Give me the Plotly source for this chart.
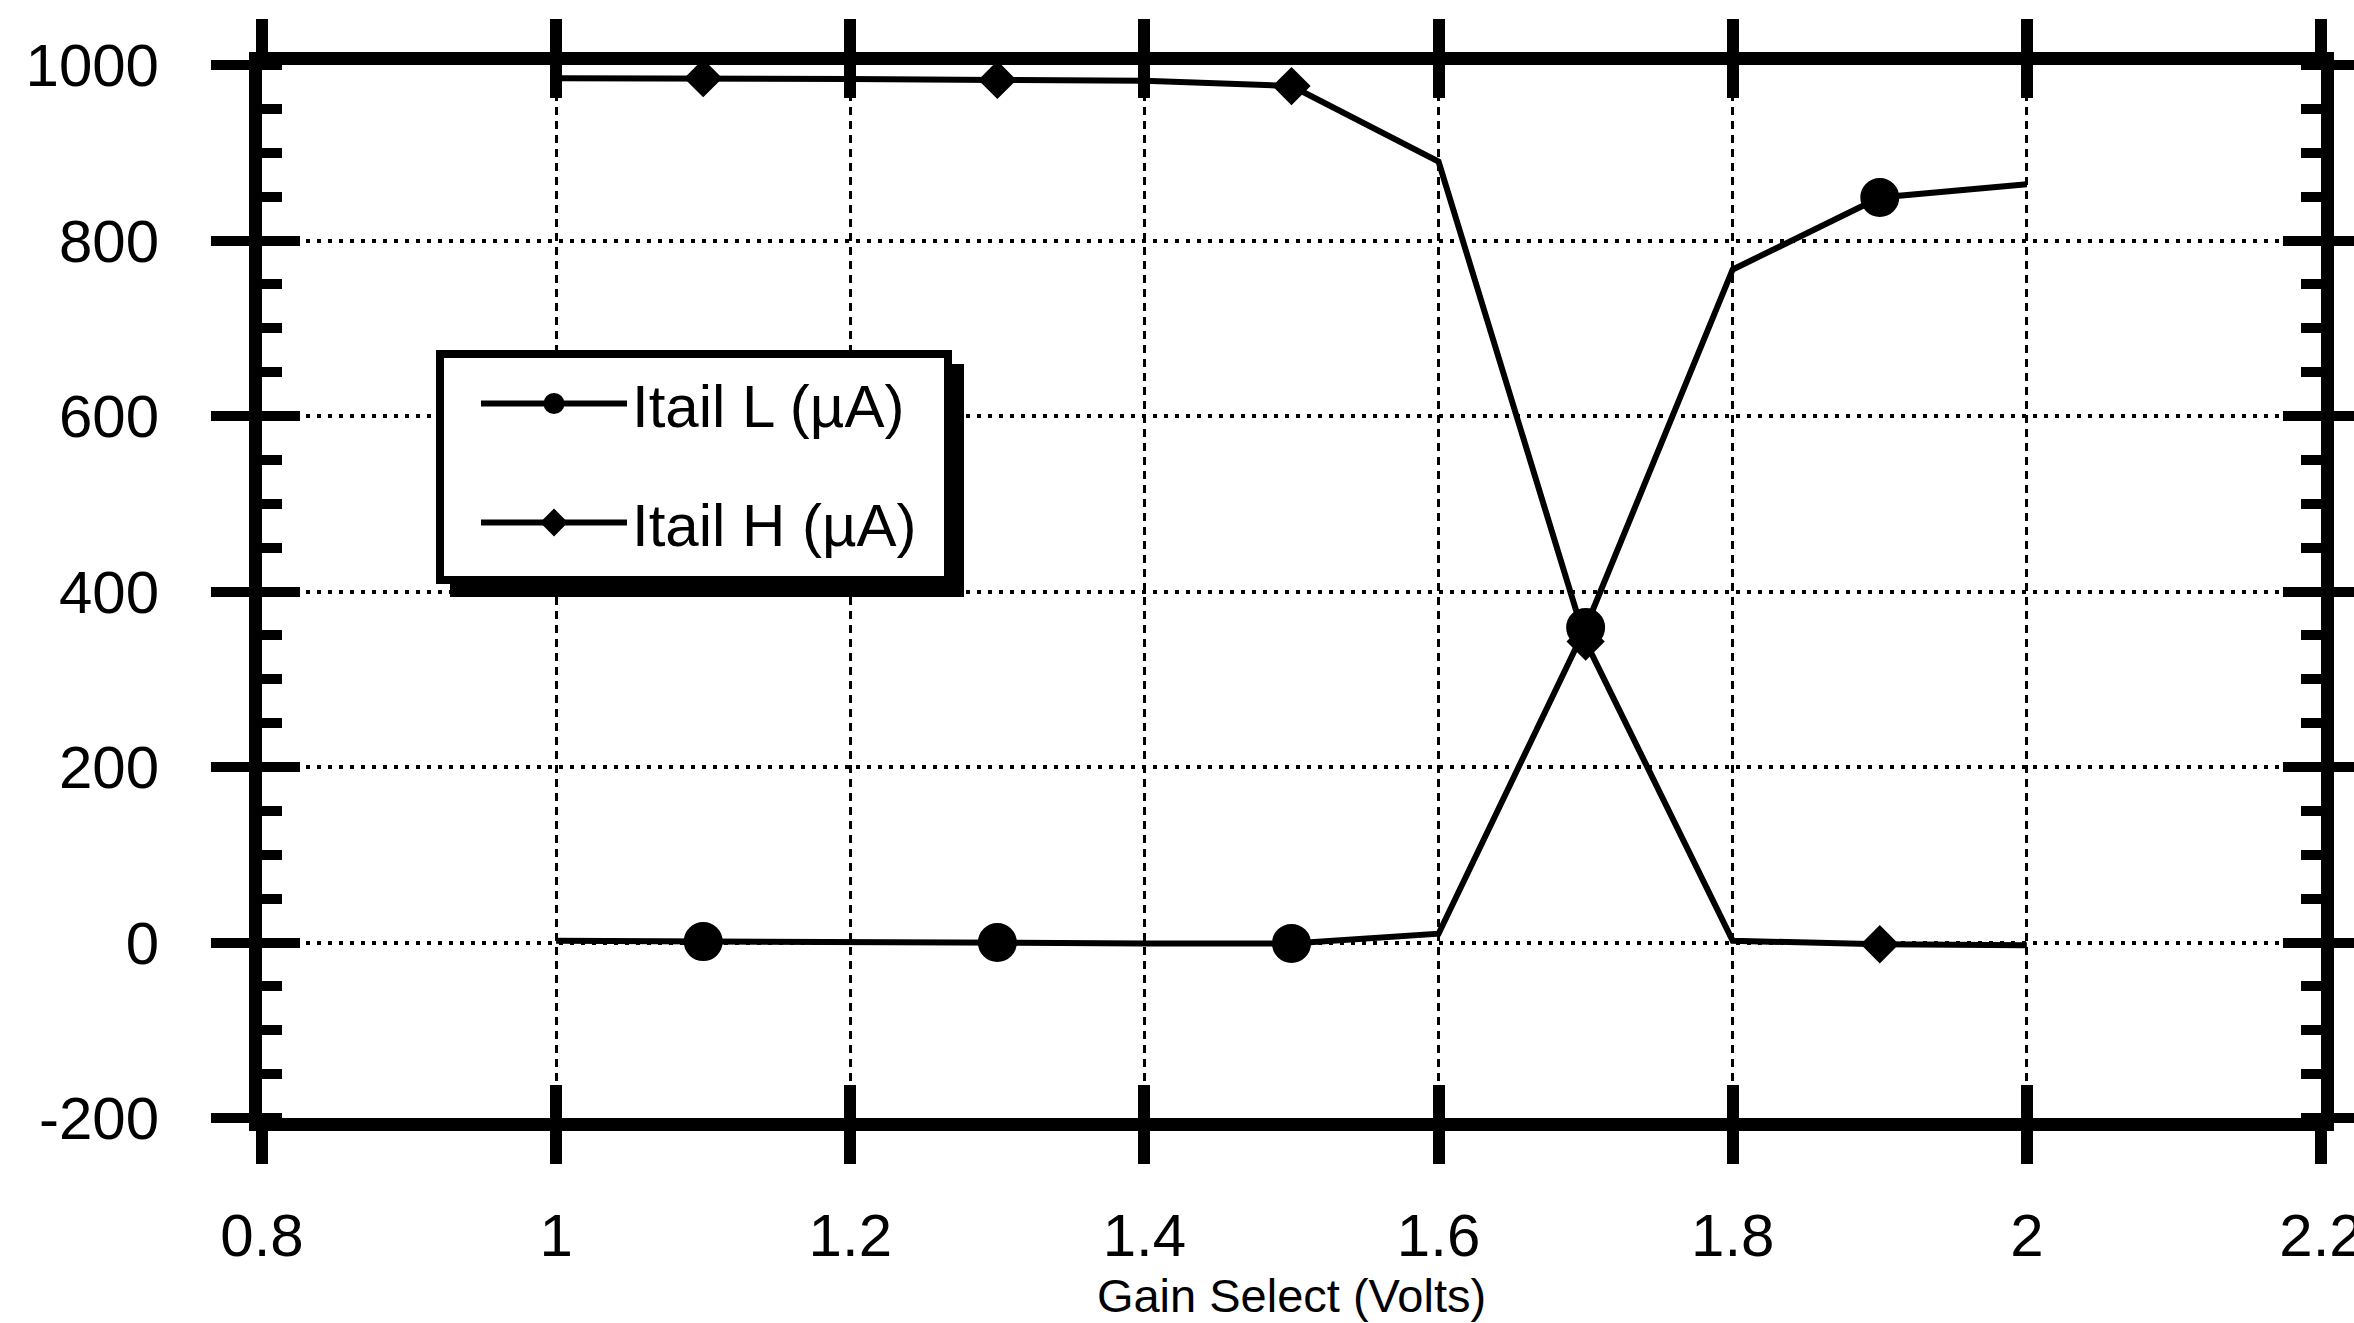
import plotly.graph_objects as go

# ---------------- data ----------------
gain_volts = [1.0, 1.1, 1.2, 1.3, 1.4, 1.5, 1.6, 1.7, 1.8, 1.9, 2.0]
itail_l = [2, 1, 0, 0, -1, -1, 10, 359, 767, 849, 864]
itail_h = [985, 985, 984, 983, 982, 976, 890, 343, 2, -2, -3]
series_names = ["Itail L (µA)", "Itail H (µA)"]

x_tick_values = [0.8, 1.0, 1.2, 1.4, 1.6, 1.8, 2.0, 2.2]
x_tick_labels = ["0.8", "1", "1.2", "1.4", "1.6", "1.8", "2", "2.2"]
y_tick_values = [-200, 0, 200, 400, 600, 800, 1000]
y_tick_labels = ["-200", "0", "200", "400", "600", "800", "1000"]
x_title = "Gain Select (Volts)"

# ---------------- geometry / style ----------------
W, H = 2354, 1323
ML, MR, MT, MB = 262, 33, 65, 205
PW, PH = W - ML - MR, H - MT - MB
FONT = "Liberation Sans, Arial, Helvetica, sans-serif"


def px_x(px):
    return (px - ML) / PW


def px_y(py):
    return 1 - (py - MT) / PH


marker_idx = list(range(1, len(gain_volts), 2))  # every other point carries a marker

fig = go.Figure()
styles = [("circle", 34), ("diamond", 24)]
for name, ys, (sym, size) in zip(series_names, [itail_l, itail_h], styles):
    fig.add_trace(go.Scatter(
        x=gain_volts, y=ys, mode="lines",
        line=dict(color="black", width=6),
        showlegend=False, hoverinfo="skip", legendgroup=name,
    ))
    fig.add_trace(go.Scatter(
        x=[gain_volts[i] for i in marker_idx], y=[ys[i] for i in marker_idx],
        mode="markers",
        marker=dict(symbol=sym, size=size, color="black", line=dict(color="black", width=5)),
        showlegend=False, hoverinfo="skip", legendgroup=name,
    ))
    # legend-only entry (line + marker glyph)
    fig.add_trace(go.Scatter(
        x=[None], y=[None], mode="lines+markers", name=name, legendgroup=name,
        line=dict(color="black", width=6),
        marker=dict(symbol=sym, size=size, color="black", line=dict(color="black", width=5)),
    ))

# empty trace to materialise the overlay axes (used for the inward half of crossing ticks)
fig.add_trace(go.Scatter(x=[None], y=[None], xaxis="x2", yaxis="y2",
                         showlegend=False, hoverinfo="skip"))

common_x = dict(range=[0.8, 2.2], tickmode="array", tickvals=x_tick_values,
                tickcolor="black", tickwidth=12, showline=True, linewidth=13,
                linecolor="black", mirror="ticks", zeroline=False, automargin=False)
common_y = dict(range=[-200, 1000], tickmode="array", tickvals=y_tick_values,
                tickcolor="black", tickwidth=10, showline=True, linewidth=13,
                linecolor="black", mirror="ticks", zeroline=False, automargin=False)

fig.update_layout(
    width=W, height=H,
    margin=dict(l=ML, r=MR, t=MT, b=MB, pad=0, autoexpand=False),
    paper_bgcolor="white", plot_bgcolor="white",
    font=dict(family=FONT, color="black", size=60),
    xaxis=dict(
        **common_x, ticktext=x_tick_labels, ticks="outside", ticklen=33,
        showgrid=True, gridcolor="black", gridwidth=3, griddash="8px,6px",
        tickfont=dict(size=60, family=FONT), ticklabelstandoff=20,
        ticklabeloverflow="allow",
        title=dict(text=x_title, font=dict(size=47, family=FONT), standoff=12),
    ),
    xaxis2=dict(**common_x, overlaying="x", anchor="y2", ticks="inside", ticklen=33,
                showticklabels=False, showgrid=False),
    yaxis=dict(
        **common_y, ticktext=y_tick_labels, ticks="outside", ticklen=38,
        showgrid=True, gridcolor="black", gridwidth=4, griddash="4px,7px",
        tickfont=dict(size=60, family=FONT), ticklabelstandoff=40,
        ticklabeloverflow="allow",
        minor=dict(ticks="inside", ticklen=20, tickwidth=10, tickcolor="black",
                   dtick=50, tick0=0, showgrid=False),
    ),
    yaxis2=dict(**common_y, overlaying="y", anchor="x2", ticks="inside", ticklen=38,
                showticklabels=False, showgrid=False),
    legend=dict(
        x=px_x(476), y=px_y(358), xanchor="left", yanchor="top",
        bgcolor="rgba(0,0,0,0)", borderwidth=0,
        font=dict(size=60, family=FONT, color="black"),
        itemwidth=146, tracegroupgap=38, traceorder="grouped",
    ),
    shapes=[
        # legend drop shadow
        dict(type="rect", xref="paper", yref="paper", layer="above",
             x0=px_x(450), x1=px_x(964), y0=px_y(597), y1=px_y(364),
             fillcolor="black", line=dict(width=0)),
        # legend box
        dict(type="rect", xref="paper", yref="paper", layer="above",
             x0=px_x(440), x1=px_x(948), y0=px_y(580), y1=px_y(354),
             fillcolor="white", line=dict(color="black", width=8)),
    ],
    showlegend=True,
)

fig.write_html("out.html")
